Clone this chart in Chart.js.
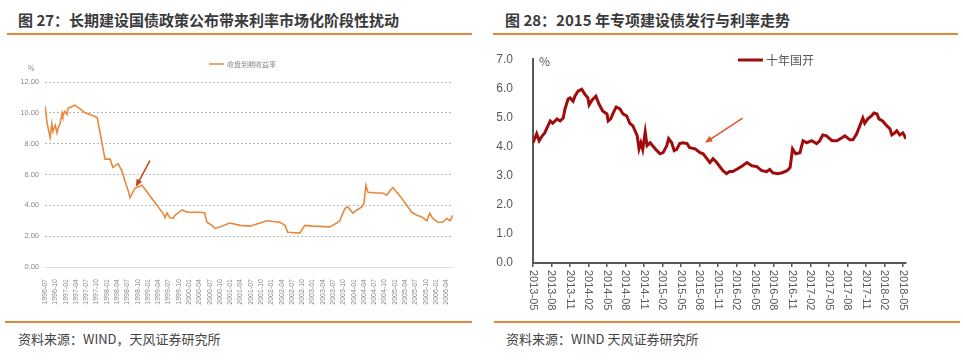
<!DOCTYPE html>
<html><head><meta charset="utf-8">
<script src="https://cdn.jsdelivr.net/npm/chart.js@4"></script>
<style>
body{margin:0;background:#fff;width:963px;height:360px;position:relative;overflow:hidden;font-family:"Noto Sans CJK SC","Liberation Sans",sans-serif}
.title{position:absolute;top:9px;font-size:15px;font-weight:bold;color:#3a3a3a;white-space:nowrap}
.rule{position:absolute;height:2px;background:#e0883a}
.src{position:absolute;top:329px;font-size:13px;color:#444;white-space:nowrap}
canvas{position:absolute;top:40px}
</style></head><body>
<div class="title" style="left:18px">图 27：长期建设国债政策公布带来利率市场化阶段性扰动</div>
<div class="rule" style="left:7px;width:465px;top:33px"></div>
<div class="title" style="left:505px">图 28：2015 年专项建设债发行与利率走势</div>
<div class="rule" style="left:493px;width:465px;top:33px"></div>
<canvas id="left" width="480" height="280" style="left:0"></canvas>
<canvas id="right" width="478" height="280" style="left:485px"></canvas>
<div class="rule" style="left:5px;width:467px;top:321px"></div>
<div class="rule" style="left:494px;width:466px;top:321px"></div>
<div class="src" style="left:18px">资料来源：WIND，天风证券研究所</div>
<div class="src" style="left:506px">资料来源：WIND 天风证券研究所</div>
<script>
// months since 1996-07, yield (%)
const leftName = '收盘到期收益率';
const leftX = [0,0.6,1.5,2,2.3,3,3.5,3.8,4.4,5,5.2,5.8,6.4,6.7,8.2,8.7,10.2,11.7,13.1,15.2,16,16.9,17.5,19,19.8,21.3,22.4,23.3,24.2,24.8,25.5,26.2,28.3,30,30.6,32,33,34.4,35,35.6,36.4,37.3,37.9,40,41.4,45.2,46.6,47.2,48.7,49.6,51,53.9,56.9,59.8,62.7,64.7,68.5,70,70.8,74.3,75.8,78.1,83.1,85.1,86,86.9,87.5,88.3,89.8,91,92.4,93,93.6,94.2,96.8,98.5,99.7,100.6,101.5,102.6,104.1,105.5,107,108.5,109.9,111.4,112.2,113.1,114.6,116,117.2,118.1,119];
const leftY = [10.45,9.35,8.4,9.3,8.8,9.2,8.7,9.0,9.3,10.0,9.8,10.1,9.9,10.3,10.45,10.5,10.25,10.0,9.9,9.7,8.8,7.7,7.0,7.0,6.45,6.7,6.25,5.6,5.0,4.5,4.8,5.1,5.3,4.8,4.6,4.2,3.9,3.5,3.2,3.5,3.2,3.15,3.35,3.7,3.55,3.55,3.5,2.9,2.7,2.5,2.6,2.85,2.7,2.65,2.85,3.0,2.9,2.7,2.25,2.2,2.7,2.65,2.6,2.85,3.0,3.5,3.8,3.9,3.5,3.7,3.9,4.1,5.3,4.85,4.8,4.8,4.65,4.95,5.15,4.85,4.45,4.0,3.55,3.35,3.25,3.0,3.5,3.15,2.9,2.9,3.15,3.0,3.35];
const leftArrow = [30.6, 6.9, 26.5, 5.2];

// months since 2013-05, 十年国开 (%)
const rightName = '十年国开';
const rightX = [0,0.6,1.0,1.5,1.9,2.4,2.8,3.2,3.9,4.4,4.9,5.2,5.7,6.0,6.5,6.8,7.3,7.9,8.4,8.9,9.1,9.6,10.2,10.7,11.3,12.0,12.2,12.6,13.0,13.5,14.1,14.6,15.2,15.7,16.2,16.9,17.2,17.5,17.8,18.2,18.5,19.0,19.4,20.1,20.6,21.1,21.7,22.0,22.5,22.9,23.3,23.8,24.3,25.0,25.4,26.3,27.1,27.6,28.7,29.2,29.8,30.8,31.4,31.9,32.4,33.2,34.0,34.7,35.5,36.3,37.1,37.9,38.4,38.9,39.7,40.4,41.2,41.7,42.1,42.6,43.3,43.8,44.4,45.2,46.0,46.5,47.0,47.6,48.5,49.3,50.1,50.6,51.4,51.9,52.5,53.0,53.5,53.8,54.3,54.9,55.3,55.8,56.1,56.7,57.4,57.9,58.2,58.7,59.0,59.5,60.0,60.5];
const rightY = [4.13,4.44,4.2,4.37,4.47,4.7,4.88,4.8,4.95,4.88,4.98,5.3,5.63,5.67,5.56,5.73,5.9,5.97,5.8,5.67,5.43,5.6,5.73,5.46,5.22,5.12,4.88,4.95,5.15,5.36,5.29,5.12,5.05,4.8,4.71,4.37,3.92,4.13,3.9,4.5,4.03,4.13,4.03,3.86,3.75,3.79,4.03,4.27,4.13,3.86,3.9,4.1,4.13,4.1,3.96,3.92,3.79,3.75,3.45,3.58,3.45,3.17,3.07,3.14,3.14,3.24,3.34,3.45,3.34,3.31,3.17,3.14,3.21,3.1,3.07,3.1,3.17,3.28,3.92,3.75,3.79,4.2,4.13,4.2,4.1,4.2,4.4,4.37,4.2,4.2,4.3,4.37,4.23,4.23,4.44,4.71,4.98,4.8,4.95,5.05,5.15,5.12,4.95,4.88,4.71,4.61,4.4,4.47,4.54,4.4,4.47,4.27];
const rightArrow = [34.0, 4.98, 27.9, 4.13];

function monthLabel(y0, m0, i){
    const t = y0*12 + (m0-1) + Math.round(i);
    const y = Math.floor(t/12), m = t%12 + 1;
    return y + '-' + (m < 10 ? '0' + m : m);
}
function pts(xs, ys){ return xs.map((x,i)=>({x:x, y:ys[i]})); }

const legendLine = {
    id:'legendLine',
    afterDraw(chart, args, o){
        const ds = chart.data.datasets[0], c = chart.ctx;
        c.save();
        c.strokeStyle = ds.borderColor; c.lineWidth = o.lw;
        c.beginPath(); c.moveTo(o.x, o.y); c.lineTo(o.x+o.len, o.y); c.stroke();
        c.fillStyle = o.color; c.font = o.font; c.textBaseline = 'middle';
        c.fillText(ds.label, o.x+o.len+3, o.y+0.5);
        c.fillText('%', chart.scales.y.right + o.unitDx, chart.chartArea.top + o.unitDy);
        c.restore();
    }
};
const arrow = {
    id:'arrow',
    afterDatasetsDraw(chart, args, o){
        const xs = chart.scales.x, ys = chart.scales.y, c = chart.ctx;
        const x0 = xs.getPixelForValue(o.pts[0]), y0 = ys.getPixelForValue(o.pts[1]);
        const x1 = xs.getPixelForValue(o.pts[2]), y1 = ys.getPixelForValue(o.pts[3]);
        const a = Math.atan2(y1-y0, x1-x0);
        c.save();
        c.strokeStyle = o.color; c.fillStyle = o.color; c.lineWidth = o.lw;
        c.beginPath(); c.moveTo(x0,y0); c.lineTo(x1 - Math.cos(a)*4, y1 - Math.sin(a)*4); c.stroke();
        c.beginPath();
        c.moveTo(x1,y1);
        c.lineTo(x1 - 8*Math.cos(a-0.4), y1 - 8*Math.sin(a-0.4));
        c.lineTo(x1 - 8*Math.cos(a+0.4), y1 - 8*Math.sin(a+0.4));
        c.closePath(); c.fill();
        c.restore();
    }
};
// right chart: x labels read top to bottom
const downLabels = {
    id:'downLabels',
    afterDraw(chart){
        const xs = chart.scales.x, c = chart.ctx;
        c.save();
        c.fillStyle = '#595959'; c.font = '11px "Liberation Sans"';
        c.textAlign = 'left'; c.textBaseline = 'middle';
        xs.ticks.forEach(t=>{
            const x = xs.getPixelForValue(t.value);
            c.save(); c.translate(x, xs.top + 7); c.rotate(Math.PI/2);
            c.fillText(monthLabel(2013, 5, t.value), 0, 0);
            c.restore();
        });
        c.restore();
    }
};

new Chart(document.getElementById('left'), {
    type:'line',
    data:{datasets:[{label:leftName, data:pts(leftX, leftY), borderColor:'#e8883c', borderWidth:1.6, pointRadius:0, tension:0}]},
    options:{
        responsive:false, animation:false, devicePixelRatio:1,
        layout:{padding:{top:42, right:27}},
        plugins:{
            legend:{display:false}, tooltip:{enabled:false},
            legendLine:{x:209, y:24, len:15, lw:1.5, color:'#8a8a8a', font:'7px "Noto Sans CJK SC"', unitDx:-17, unitDy:-14},
            arrow:{pts:leftArrow, color:'#c8401a', lw:1.5}
        },
        scales:{
            x:{type:'linear', min:0, max:119,
               afterFit(s){ s.height = 53; },
               grid:{display:false}, border:{display:false},
               ticks:{stepSize:3, includeBounds:false, autoSkip:false, minRotation:90, maxRotation:90, padding:4,
                      color:'#888', font:{size:7, family:'Liberation Sans'},
                      callback:v=>monthLabel(1996, 7, v)}},
            y:{min:0, max:12,
               afterFit(s){ s.width = 45; },
               grid:{color:c=>c.tick && c.tick.value===0 ? '#dcdcdc' : '#b8b8b8', lineWidth:1, drawTicks:false},
               border:{display:false, dash:c=>c.tick && c.tick.value===0 ? [] : [2,2]},
               ticks:{stepSize:2, padding:6, color:'#888', font:{size:7.5, family:'Liberation Sans'},
                      callback:v=>v.toFixed(2)}}
        }
    },
    plugins:[legendLine, arrow]
});

new Chart(document.getElementById('right'), {
    type:'line',
    data:{datasets:[{label:rightName, data:pts(rightX, rightY), borderColor:'#a00c0c', borderWidth:3, pointRadius:0, tension:0}]},
    options:{
        responsive:false, animation:false, devicePixelRatio:1,
        layout:{padding:{top:18, right:57}},
        plugins:{
            legend:{display:false}, tooltip:{enabled:false},
            legendLine:{x:253, y:20, len:25, lw:3, color:'#595959', font:'12px "Noto Sans CJK SC"', unitDx:6, unitDy:2},
            arrow:{pts:rightArrow, color:'#e0552a', lw:1.5}
        },
        scales:{
            x:{type:'linear', min:0, max:60.5,
               afterFit(s){ s.height = 57; },
               grid:{display:true, drawOnChartArea:false, drawTicks:true, tickLength:4, color:'#595959', lineWidth:1.5},
               border:{display:true, color:'#595959', width:2},
               ticks:{stepSize:3, includeBounds:false, autoSkip:false, display:false}},
            y:{min:0, max:7,
               afterFit(s){ s.width = 48; },
               grid:{display:false},
               border:{display:true, color:'#595959', width:2},
               ticks:{stepSize:1, padding:12, color:'#595959', font:{size:12, family:'Liberation Sans'},
                      callback:v=>v.toFixed(1)}}
        }
    },
    plugins:[legendLine, arrow, downLabels]
});
</script>
</body></html>
